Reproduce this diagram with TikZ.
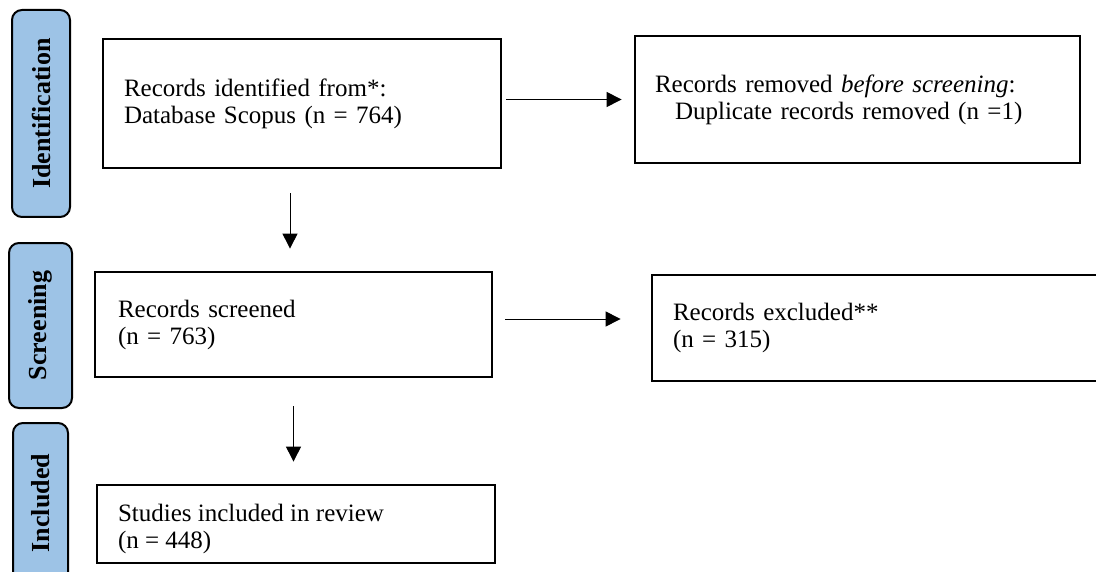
\documentclass[tikz,border=0pt]{standalone}
\usepackage{fontspec}
\setmainfont{Liberation Serif}
\usetikzlibrary{arrows.meta,positioning}
\definecolor{stageblue}{HTML}{9DC3E6}

\begin{document}
\begin{tikzpicture}[x=0.5pt,y=-0.5pt,
  box/.style={draw, line width=1.4pt, align=left, inner ysep=0pt, font=\fontsize{12.5}{13.5}\selectfont},
  stage/.style={draw, line width=1pt, rounded corners=5pt, fill=stageblue, rotate=90, font=\fontsize{13}{15}\selectfont\bfseries},
  flow/.style={-{Triangle[length=7.5pt,width=7.5pt]}, line width=0.5pt}]
  \useasboundingbox (0,0) rectangle (1096,572);
  \node[stage, minimum width=103.5pt, minimum height=29pt](idlab) at (41,113.5){Identification};
  \node[stage, minimum width=82.5pt, minimum height=31.5pt](scrlab) at (40.5,325.5){Screening};
  \node[stage, minimum width=80pt, minimum height=27.5pt](inclab) at (40.5,503){Included};
  \node[box, minimum height=64.5pt, text width=178pt, inner xsep=10.5pt](ident) at (302,103.5)
    {Records identified from*:\\Database Scopus (n = 764)};
  \node[box, minimum height=63.5pt, text width=202.5pt, inner xsep=10pt](removed) at (857.5,99.5)
    {Records removed \textit{before screening}:\\\hspace*{10pt}Duplicate records removed (n =1)};
  \node[box, minimum height=52.5pt, text width=175.5pt, inner xsep=11.5pt](screened) at (293.5,324.5)
    {Records screened\\(n = 763)};
  \node[box, minimum height=53pt, text width=203pt, inner xsep=10.5pt](excluded) at (876,328)
    {Records excluded**\\(n = 315)};
  \node[box, minimum height=39pt, minimum width=199pt, inner xsep=10.5pt](included) at (296,524)
    {\raisebox{-5.5pt}[0pt][0pt]{\parbox{178pt}{Studies included in review\\(n = 448)}}};
  \draw[flow, shorten <=2pt, shorten >=6pt](ident.east |- removed.west)--(removed.west);
  \draw[flow, shorten <=12pt, shorten >=11pt]([xshift=-6pt]ident.south)--([xshift=-6pt]ident.south |- screened.north);
  \draw[flow, shorten <=6pt, shorten >=15pt]([yshift=2.75pt]screened.east)--([yshift=2.75pt]screened.east -| excluded.west);
  \draw[flow, shorten <=14pt, shorten >=11pt](screened.south)--(screened.south |- included.north);
\end{tikzpicture}
\end{document}
